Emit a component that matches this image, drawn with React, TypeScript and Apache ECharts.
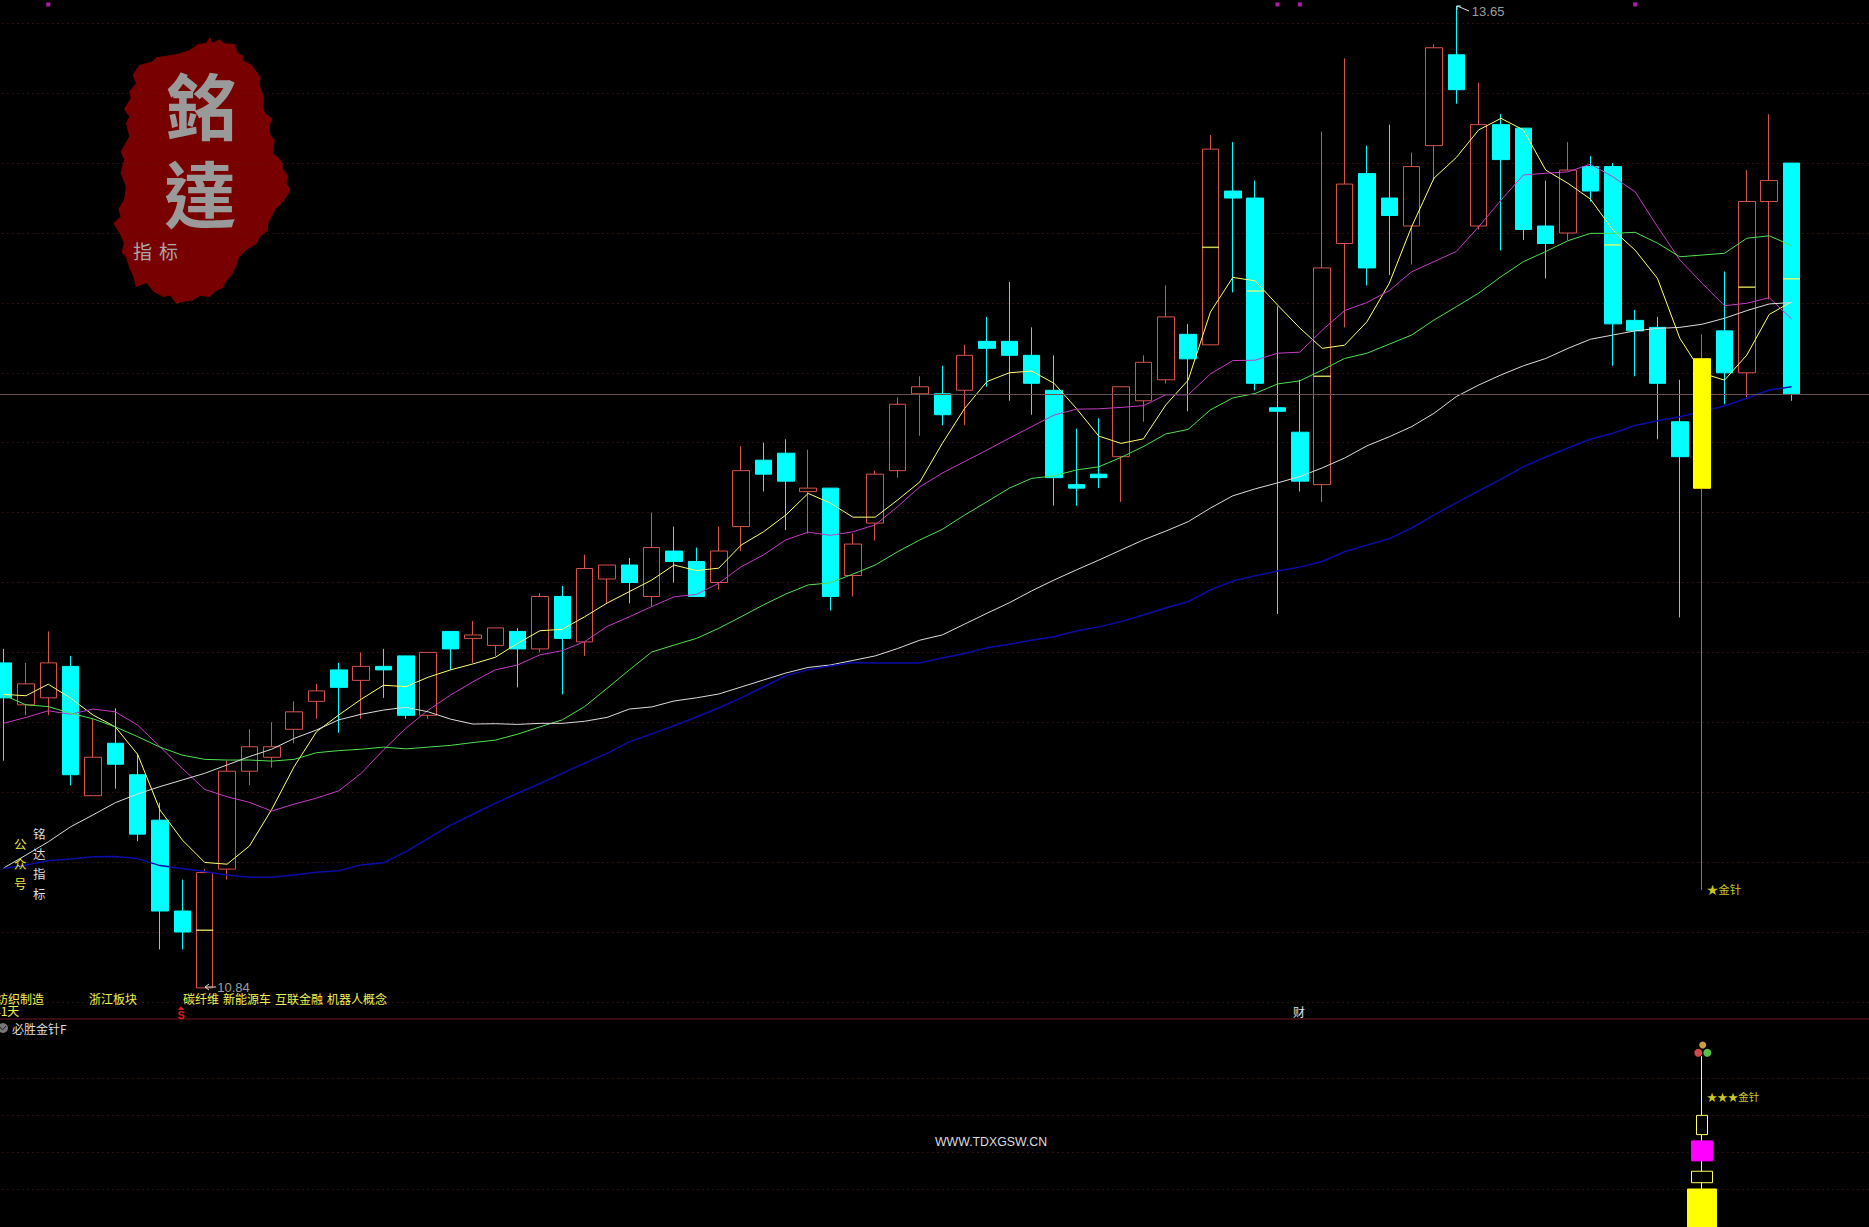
import React, { useEffect, useRef } from "react";
import * as echarts from "echarts";

// [open, close, low, high]
const candles: number[][] = [
  [11.77,11.67,11.49,11.81],[11.65,11.71,11.62,11.77],[11.67,11.77,11.62,11.86],[11.76,11.45,11.42,11.79],
  [11.39,11.50,11.39,11.61],[11.54,11.48,11.41,11.64],[11.45,11.28,11.26,11.51],[11.32,11.06,10.95,11.37],
  [11.06,11.00,10.95,11.15],[10.84,11.17,10.84,11.18],[11.18,11.46,11.15,11.49],[11.46,11.53,11.42,11.58],
  [11.50,11.53,11.47,11.60],[11.58,11.63,11.54,11.66],[11.66,11.69,11.61,11.71],[11.75,11.70,11.57,11.77],
  [11.72,11.76,11.61,11.80],[11.76,11.75,11.67,11.81],[11.79,11.62,11.61,11.79],[11.62,11.80,11.61,11.80],
  [11.86,11.81,11.75,11.86],[11.84,11.85,11.77,11.89],[11.82,11.87,11.79,11.87],[11.86,11.81,11.70,11.87],
  [11.81,11.96,11.80,11.97],[11.96,11.84,11.68,11.99],[11.83,12.04,11.79,12.08],[12.01,12.05,11.94,12.05],
  [12.05,12.00,11.94,12.07],[11.96,12.10,11.93,12.20],[12.09,12.06,12.00,12.16],[12.06,11.96,11.96,12.10],
  [12.00,12.09,11.98,12.16],[12.16,12.32,12.09,12.39],[12.35,12.31,12.26,12.40],[12.37,12.29,12.15,12.41],
  [12.26,12.27,12.14,12.38],[12.27,11.96,11.92,12.27],[12.02,12.11,11.96,12.14],[12.17,12.31,12.12,12.32],
  [12.32,12.51,12.30,12.53],[12.54,12.56,12.42,12.59],[12.54,12.48,12.45,12.62],[12.55,12.65,12.45,12.68],
  [12.69,12.67,12.56,12.76],[12.69,12.65,12.52,12.86],[12.65,12.57,12.48,12.73],[12.55,12.30,12.22,12.65],
  [12.28,12.27,12.22,12.44],[12.31,12.30,12.27,12.47],[12.36,12.56,12.23,12.56],[12.52,12.63,12.46,12.65],
  [12.58,12.76,12.57,12.85],[12.71,12.64,12.49,12.74],[12.68,13.24,12.68,13.28],[13.12,13.10,12.83,13.26],
  [13.10,12.57,12.55,13.15],[12.50,12.49,11.91,12.79],[12.43,12.29,12.26,12.58],[12.28,12.90,12.23,13.29],
  [12.97,13.14,12.73,13.50],[13.17,12.90,12.85,13.25],[13.10,13.05,12.88,13.31],[13.02,13.19,12.91,13.23],
  [13.25,13.53,13.15,13.54],[13.51,13.41,13.37,13.65],[13.02,13.31,13.01,13.43],[13.31,13.21,12.95,13.34],
  [13.30,13.01,12.98,13.30],[13.02,12.97,12.87,13.15],[13.00,13.18,12.98,13.26],[13.19,13.12,13.09,13.22],
  [13.19,12.74,12.62,13.20],[12.75,12.72,12.59,12.78],[12.73,12.57,12.41,12.76],[12.46,12.36,11.90,12.58],
  [12.27,12.64,11.12,12.71],[12.72,12.60,12.51,12.89],[12.60,13.09,12.53,13.18],[13.09,13.15,12.81,13.34],
  [13.20,12.54,12.52,13.20],
];

const maYellow = [11.680,11.676,11.709,11.669,11.621,11.587,11.508,11.349,11.263,11.199,11.194,11.246,11.351,11.473,11.573,11.621,11.666,11.706,11.702,11.729,11.750,11.767,11.786,11.826,11.862,11.866,11.902,11.941,11.974,12.007,12.050,12.034,12.041,12.107,12.145,12.193,12.255,12.227,12.187,12.187,12.236,12.288,12.398,12.498,12.575,12.600,12.605,12.570,12.498,12.419,12.398,12.411,12.508,12.579,12.774,12.873,12.863,12.794,12.728,12.670,12.679,12.746,12.856,13.018,13.157,13.216,13.295,13.328,13.295,13.180,13.142,13.097,13.009,12.951,12.870,12.699,12.599,12.579,12.651,12.767,12.803];
const maMagenta = [11.597,11.614,11.633,11.623,11.638,11.630,11.592,11.530,11.468,11.408,11.387,11.371,11.346,11.366,11.383,11.404,11.454,11.521,11.583,11.635,11.678,11.716,11.750,11.764,11.793,11.805,11.831,11.874,11.902,11.931,11.959,11.966,11.998,12.045,12.079,12.122,12.144,12.135,12.145,12.165,12.217,12.274,12.313,12.346,12.379,12.413,12.446,12.479,12.496,12.497,12.501,12.506,12.537,12.537,12.597,12.635,12.636,12.656,12.659,12.722,12.778,12.801,12.835,12.889,12.918,12.947,13.018,13.094,13.166,13.171,13.175,13.197,13.161,13.118,13.018,12.923,12.856,12.792,12.799,12.815,12.754];
const maGreen = [11.678,11.650,11.645,11.626,11.610,11.587,11.559,11.529,11.506,11.494,11.492,11.492,11.489,11.494,11.513,11.519,11.523,11.529,11.524,11.529,11.534,11.542,11.549,11.566,11.587,11.607,11.645,11.697,11.750,11.801,11.821,11.840,11.869,11.902,11.936,11.967,11.993,11.999,12.024,12.050,12.088,12.122,12.152,12.193,12.231,12.270,12.298,12.305,12.322,12.331,12.358,12.389,12.425,12.438,12.494,12.528,12.541,12.568,12.577,12.608,12.641,12.656,12.682,12.708,12.751,12.789,12.828,12.875,12.918,12.947,12.978,12.999,12.999,13.002,12.971,12.932,12.937,12.942,12.985,12.992,12.964];
const maWhite = [11.183,11.220,11.258,11.301,11.335,11.370,11.395,11.416,11.435,11.454,11.478,11.502,11.523,11.554,11.578,11.607,11.623,11.635,11.643,11.630,11.609,11.595,11.596,11.594,11.597,11.597,11.603,11.614,11.638,11.644,11.661,11.670,11.681,11.701,11.721,11.741,11.757,11.764,11.777,11.790,11.811,11.835,11.850,11.881,11.912,11.942,11.976,12.007,12.036,12.064,12.093,12.122,12.147,12.174,12.213,12.248,12.268,12.285,12.303,12.328,12.356,12.391,12.417,12.446,12.484,12.532,12.565,12.594,12.620,12.641,12.670,12.696,12.708,12.720,12.727,12.730,12.739,12.756,12.778,12.797,12.801];
const maBlue = [11.182,11.192,11.204,11.209,11.215,11.216,11.210,11.190,11.182,11.173,11.163,11.157,11.157,11.163,11.171,11.175,11.192,11.198,11.230,11.268,11.306,11.337,11.368,11.397,11.425,11.454,11.483,11.511,11.544,11.567,11.590,11.615,11.641,11.670,11.701,11.733,11.750,11.761,11.771,11.770,11.770,11.770,11.784,11.797,11.813,11.823,11.835,11.845,11.861,11.873,11.888,11.907,11.927,11.945,11.979,12.004,12.019,12.033,12.044,12.060,12.088,12.107,12.125,12.156,12.193,12.228,12.262,12.296,12.331,12.359,12.385,12.410,12.427,12.449,12.463,12.474,12.489,12.505,12.527,12.551,12.560];

const categories = Array.from({ length: 84 }, (_, i) => String(i + 1));
const needleIndex = 76;
const needleBody = [12.27, 12.64, 12.27, 12.64];
const lastClose = 12.54;

// small yellow dash inside some candles: [index, price]
const midDashes = [[9,11.005],[54,12.959],[56,12.834],[59,12.59],[72,12.966],[78,12.845],[80,12.869]];
// magenta signal dots along the top edge
const topDots = [[2,13.654],[57,13.654],[58,13.654],[73,13.654]];

// lower panel pillars [open, close, low, high]
const subNeedle = [1, 4.59, 1, 4.59];
const subBoxA = [2.47, 2.99, 2.47, 2.99];
const subBoxB = [1.76, 2.30, 1.76, 2.30];
const subBoxC = [1.17, 1.48, 1.17, 1.48];
const subBoxD = [-0.03, 1.0, -0.03, 1.0];

const conceptTexts = ["纺织制造", "浙江板块", "碳纤维", "新能源车", "互联金融", "机器人概念"];
const verticalA = ["公", "众", "号"];
const verticalB = ["铭", "达", "指", "标"];
const blobPoints = [[330,50],[338,68],[360,58],[372,70],[405,72],[412,98],[432,108],[428,120],[455,135],[482,172],[478,190],[492,232],[490,262],[498,282],[518,296],[508,320],[512,345],[525,362],[518,400],[535,412],[550,432],[548,445],[565,468],[560,490],[572,510],[562,528],[548,548],[530,565],[520,582],[505,610],[505,632],[482,650],[470,672],[440,690],[418,712],[408,740],[398,762],[378,785],[368,805],[345,815],[330,832],[300,828],[278,842],[255,845],[228,852],[212,828],[190,832],[160,815],[140,790],[108,802],[100,770],[88,745],[78,712],[65,698],[72,670],[58,640],[40,610],[62,590],[55,568],[72,540],[78,500],[62,460],[72,420],[62,395],[88,350],[78,310],[88,290],[72,268],[92,235],[88,215],[108,190],[98,165],[118,135],[155,125],[170,112],[210,106],[240,100],[270,90],[295,72],[320,68]];

const lineSeries = (name: string, data: number[], color: string, width = 1) => ({
  name, type: "line", data, xAxisIndex: 0, yAxisIndex: 0, showSymbol: false, symbol: "none",
  clip: false, smooth: false, lineStyle: { color, width }, z: 3, silent: true,
});

const only = (idx: number, row: number[]) =>
  categories.map((_, i) => (i === idx ? row : [NaN, NaN, NaN, NaN]));

const pillar = (name: string, row: number[], width: number, fill: string, stroke: string) => ({
  name, type: "candlestick", xAxisIndex: 1, yAxisIndex: 1, clip: false, barWidth: width, silent: true,
  data: only(needleIndex, row),
  itemStyle: { color: fill, color0: fill, borderColor: stroke, borderColor0: stroke, borderWidth: 1 },
});

const FONT = '"Noto Sans CJK SC", sans-serif';
const LATIN = '"Liberation Sans", sans-serif';
const txt = (text: string, x: number, y: number, fill: string, fontSize = 12, extra: any = {}) => ({
  type: "text", x, y, silent: true, z: 20,
  style: { text, fill, fontSize, fontFamily: FONT, textAlign: "left", textVerticalAlign: "middle", ...extra },
});

export default function App() {
  const ref = useRef<HTMLDivElement>(null);
  useEffect(() => {
    document.body.style.margin = "0";
    document.body.style.background = "#000";
    const chart = echarts.init(ref.current!, undefined, { renderer: "svg", width: 1869, height: 1227 });
    const gridLine = { show: true, lineStyle: { color: "#5c2218", width: 1, type: [1, 4] as any } };
    const hiddenAxis = { axisLine: { show: false }, axisTick: { show: false }, axisLabel: { show: false } };
    chart.setOption({
      animation: false,
      backgroundColor: "#000",
      tooltip: { show: false },
      grid: [
        { left: -7.6, top: 23.3, width: 1877.4, height: 978.6, outerBoundsMode: "none" },
        { left: -7.6, top: 1078, width: 1877.4, height: 111, outerBoundsMode: "none" },
      ],
      xAxis: [
        { type: "category", gridIndex: 0, data: categories, ...hiddenAxis, splitLine: { show: false } },
        { type: "category", gridIndex: 1, data: categories, ...hiddenAxis, splitLine: { show: false } },
      ],
      yAxis: [
        { type: "value", gridIndex: 0, min: 10.8, max: 13.6, interval: 0.2, ...hiddenAxis, splitLine: gridLine },
        { type: "value", gridIndex: 1, min: 1, max: 4, interval: 1, ...hiddenAxis, splitLine: gridLine },
      ],
      series: [
        {
          name: "K线", type: "candlestick", xAxisIndex: 0, yAxisIndex: 0, data: candles, barWidth: 17, clip: false, silent: true,
          itemStyle: { color: "rgba(0,0,0,0)", color0: "#00ffff", borderColor: "#d8524c", borderColor0: "#00ffff", borderWidth: 1 },
          markLine: {
            silent: true, symbol: "none", animation: false, label: { show: false },
            lineStyle: { color: "#6a5050", type: "solid", width: 1 },
            data: [{ yAxis: lastClose }],
          },
        },
        lineSeries("MA5", maYellow, "#ffff70"),
        lineSeries("MA10", maMagenta, "#c43cc4", 1),
        lineSeries("MA20", maGreen, "#50e050"),
        lineSeries("MA60", maWhite, "#dcdcdc"),
        lineSeries("MA120", maBlue, "#0c0ca8", 1.5),
        {
          name: "金针实体", type: "candlestick", xAxisIndex: 0, yAxisIndex: 0, barWidth: 17, clip: false, silent: true, z: 5,
          data: only(needleIndex, needleBody),
          itemStyle: { color: "#ffff00", color0: "#ffff00", borderColor: "#ffff00", borderColor0: "#ffff00", borderWidth: 1 },
        },
        {
          name: "均价", type: "scatter", xAxisIndex: 0, yAxisIndex: 0, clip: false, silent: true, z: 4,
          symbol: "rect", symbolSize: [17, 1.5], data: midDashes, itemStyle: { color: "#ffff66" },
        },
        {
          name: "信号", type: "scatter", xAxisIndex: 0, yAxisIndex: 0, clip: false, silent: true,
          symbol: "rect", symbolSize: [4, 4], data: topDots, itemStyle: { color: "#e020e0" },
        },
        {
          name: "标注", type: "scatter", xAxisIndex: 0, yAxisIndex: 0, clip: false, silent: true, z: 6,
          symbolSize: 1, itemStyle: { color: "rgba(0,0,0,0)" },
          label: { show: true, position: "right", formatter: "{b}", fontFamily: LATIN, fontSize: 13, color: "#c8c8c8" },
          data: [
            { name: "10.84", value: [9, 10.84], label: { distance: 12 } },
            { name: "13.65", value: [65, 13.65], label: { distance: 15, offset: [0, 6] } },
            { name: "★金针", value: [needleIndex, 11.12], label: { distance: 4, color: "#ffff33", fontFamily: FONT, fontSize: 11.5, offset: [0, -1] } },
          ],
        },
        pillar("副图针", subNeedle, 1, "#ffff60", "#ffff60"),
        pillar("副图A", subBoxA, 12, "#000", "#ffff60"),
        pillar("副图B", subBoxB, 21, "#ff00ff", "#ff00ff"),
        pillar("副图C", subBoxC, 22, "#000", "#ffff60"),
        pillar("副图D", subBoxD, 29, "#ffff00", "#ffff00"),
        {
          name: "副图标注", type: "scatter", xAxisIndex: 1, yAxisIndex: 1, clip: false, silent: true, z: 6,
          symbolSize: 1, itemStyle: { color: "rgba(0,0,0,0)" },
          label: { show: true, position: "right", distance: 4, formatter: "{b}", fontFamily: FONT, fontSize: 10.5, color: "#ffff33" },
          data: [{ name: "★★★金针", value: [needleIndex, 3.49] }],
        },
      ],
      graphic: [
        // logo
        { type: "polygon", x: 100, y: 20, scaleX: 1 / 3, scaleY: 1 / 3, z: -10, silent: true,
          shape: { points: blobPoints }, style: { fill: "#780000" } },
        txt("銘", 166, 102, "#9a9a9a", 72, { fontFamily: '"Noto Sans CJK TC"', fontWeight: "bold" }),
        txt("達", 164, 190, "#9a9a9a", 72, { fontFamily: '"Noto Sans CJK TC"', fontWeight: "bold" }),
        txt("指", 133, 250, "#a8a8a8", 19),
        txt("标", 159, 250, "#a8a8a8", 19),
        // arrows
        { type: "polyline", silent: true, z: 20, shape: { points: [[216, 987], [205, 987]] }, style: { stroke: "#dddddd", fill: "none", lineWidth: 1 } },
        { type: "polyline", silent: true, z: 20, shape: { points: [[209, 984], [205, 987], [209, 990]] }, style: { stroke: "#dddddd", fill: "none", lineWidth: 1 } },
        { type: "polyline", silent: true, z: 20, shape: { points: [[1469, 11], [1462, 8], [1457, 6]] }, style: { stroke: "#dddddd", fill: "none", lineWidth: 1 } },
        { type: "polyline", silent: true, z: 20, shape: { points: [[1457, 10], [1457, 6], [1461, 6]] }, style: { stroke: "#dddddd", fill: "none", lineWidth: 1 } },
        // concept labels
        txt(conceptTexts[0], -4, 998, "#f0f055"),
        txt(conceptTexts[1], 89, 998, "#f0f055"),
        txt(conceptTexts[2], 183, 998, "#f0f055"),
        txt(conceptTexts[3], 223, 998, "#f0f055"),
        txt(conceptTexts[4], 275, 998, "#f0f055"),
        txt(conceptTexts[5], 327, 998, "#f0f055"),
        txt("41天", -6, 1010, "#f0f055"),
        // S marker
        { type: "polygon", silent: true, z: 20, shape: { points: [[181, 1006], [178, 1010], [184, 1010]] }, style: { fill: "#e01818" } },
        txt("S", 177.5, 1014.5, "#e01818", 11, { fontFamily: LATIN, fontWeight: "bold" }),
        txt("财", 1293, 1011, "#cfe6ff", 12),
        // panel separator and title
        { type: "line", silent: true, z: 15, shape: { x1: 0, y1: 1019, x2: 1869, y2: 1019 }, style: { stroke: "#701820", lineWidth: 1 } },
        { type: "circle", silent: true, z: 20, shape: { cx: 3, cy: 1028, r: 5 }, style: { fill: "#777777" } },
        { type: "polyline", silent: true, z: 21, shape: { points: [[0, 1027], [2.5, 1030], [6, 1026]] }, style: { stroke: "#222", fill: "none", lineWidth: 1 } },
        txt("必胜金针F", 12, 1028, "#dddddd"),
        txt("WWW.TDXGSW.CN", 935, 1142, "#dddddd", 12.3, { fontFamily: LATIN }),
        // vertical texts
        ...verticalA.map((c, i) => txt(c, 14, 843 + i * 20, "#e8e840", 12.5)),
        ...verticalB.map((c, i) => txt(c, 33, 833 + i * 20, "#dddddd", 12.5)),
        // balls
        { type: "circle", silent: true, z: 20, shape: { cx: 1702.7, cy: 1045, r: 3.5 }, style: { fill: "#c8a040" } },
        { type: "circle", silent: true, z: 20, shape: { cx: 1698.3, cy: 1052.7, r: 4 }, style: { fill: "#d04848" } },
        { type: "circle", silent: true, z: 20, shape: { cx: 1707.3, cy: 1052.7, r: 4 }, style: { fill: "#58c048" } },
      ],
    });
    return () => chart.dispose();
  }, []);
  return <div ref={ref} style={{ position: "absolute", left: 0, top: 0, width: 1869, height: 1227, background: "#000" }} />;
}
